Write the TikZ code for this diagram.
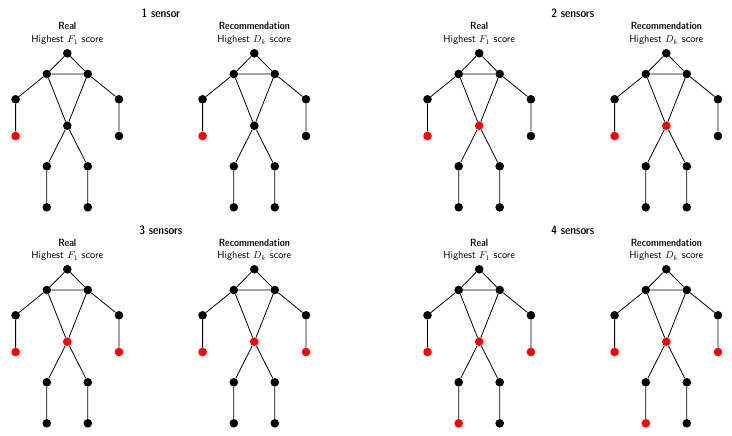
\documentclass[tikz,border=0pt]{standalone}
\begin{document}
\begin{tikzpicture}[x=1pt,y=-1pt,
  joint/.style={circle,fill=black,inner sep=0pt,minimum size=8.6pt},
  jred/.style={circle,fill=red,inner sep=0pt,minimum size=8.6pt},
  j-hd/.style=joint, j-ls/.style=joint, j-rs/.style=joint,
  j-le/.style=joint, j-re/.style=joint, j-lw/.style=joint, j-rw/.style=joint,
  j-pe/.style=joint, j-lk/.style=joint, j-rk/.style=joint,
  j-lf/.style=joint, j-rf/.style=joint,
  bone/.style={line width=0.8pt,black},
  ttl/.style={font=\sffamily\fontseries{sbc}\fontsize{12}{14}\selectfont,anchor=base,inner sep=0pt},
  sub/.style={font=\sffamily\fontseries{sbc}\fontsize{10.4}{12}\selectfont,anchor=base,inner sep=0pt},
  crit/.style={font=\sffamily\fontsize{10.3}{12}\selectfont,anchor=base,inner sep=0pt}]
\useasboundingbox (0,0) rectangle (732,436);
\newcommand\skel[4]{%
 \begin{scope}[shift={(#2,#3)},#4]
  \node[j-hd] (#1-hd) at (0,0) {};
  \node[j-ls] (#1-ls) at (-20.5,20.7) {};
  \node[j-rs] (#1-rs) at (20.5,20.7) {};
  \node[j-le] (#1-le) at (-51.7,46) {};
  \node[j-re] (#1-re) at (51.7,46) {};
  \node[j-lw] (#1-lw) at (-51.7,82.7) {};
  \node[j-rw] (#1-rw) at (51.7,82.7) {};
  \node[j-pe] (#1-pe) at (0,72.4) {};
  \node[j-lk] (#1-lk) at (-20.5,113) {};
  \node[j-rk] (#1-rk) at (20.5,113) {};
  \node[j-lf] (#1-lf) at (-20.5,154) {};
  \node[j-rf] (#1-rf) at (20.5,154) {};
  \draw[bone] (#1-hd) -- (#1-ls) -- (#1-rs) -- (#1-hd);
  \draw[bone] (#1-ls) -- (#1-le) -- (#1-lw);
  \draw[bone] (#1-rs) -- (#1-re) -- (#1-rw);
  \draw[bone] (#1-ls) -- (#1-pe) -- (#1-rs);
  \draw[bone] (#1-pe) -- (#1-lk) -- (#1-lf);
  \draw[bone] (#1-pe) -- (#1-rk) -- (#1-rf);
 \end{scope}}
\node[ttl] (t1) at (160.8,18) {1 sensor};
\node[ttl] (t2) at (572.7,18) {2 sensors};
\node[ttl] (t3) at (160.8,234) {3 sensors};
\node[ttl] (t4) at (572.7,234) {4 sensors};
\foreach \cx/\cy/\nm/\ty in {67.3/53.3/a/R,254.3/53.3/b/D,479.2/53.3/c/R,666.3/53.3/d/D,
                            67.3/269.3/e/R,254.3/269.3/f/D,479.2/269.3/g/R,666.3/269.3/h/D}{
  \if\ty R
    \node[sub] (\nm-s) at (\cx,\cy-23.3) {Real};
    \node[crit] (\nm-c) at (\cx,\cy-10.6) {Highest $F_1$ score};
  \else
    \node[sub] (\nm-s) at (\cx,\cy-23.3) {Recommendation};
    \node[crit] (\nm-c) at (\cx,\cy-10.6) {Highest $D_k$ score};
  \fi
}
\skel{a}{67.3}{53.3}{j-lw/.style=jred}
\skel{b}{254.3}{53.3}{j-lw/.style=jred}
\skel{c}{479.2}{53.3}{j-lw/.style=jred,j-pe/.style=jred}
\skel{d}{666.3}{53.3}{j-lw/.style=jred,j-pe/.style=jred}
\skel{e}{67.3}{269.3}{j-lw/.style=jred,j-pe/.style=jred,j-rw/.style=jred}
\skel{f}{254.3}{269.3}{j-lw/.style=jred,j-pe/.style=jred,j-rw/.style=jred}
\skel{g}{479.2}{269.3}{j-lw/.style=jred,j-pe/.style=jred,j-rw/.style=jred,j-lf/.style=jred}
\skel{h}{666.3}{269.3}{j-lw/.style=jred,j-pe/.style=jred,j-rw/.style=jred,j-lf/.style=jred}
\end{tikzpicture}
\end{document}
